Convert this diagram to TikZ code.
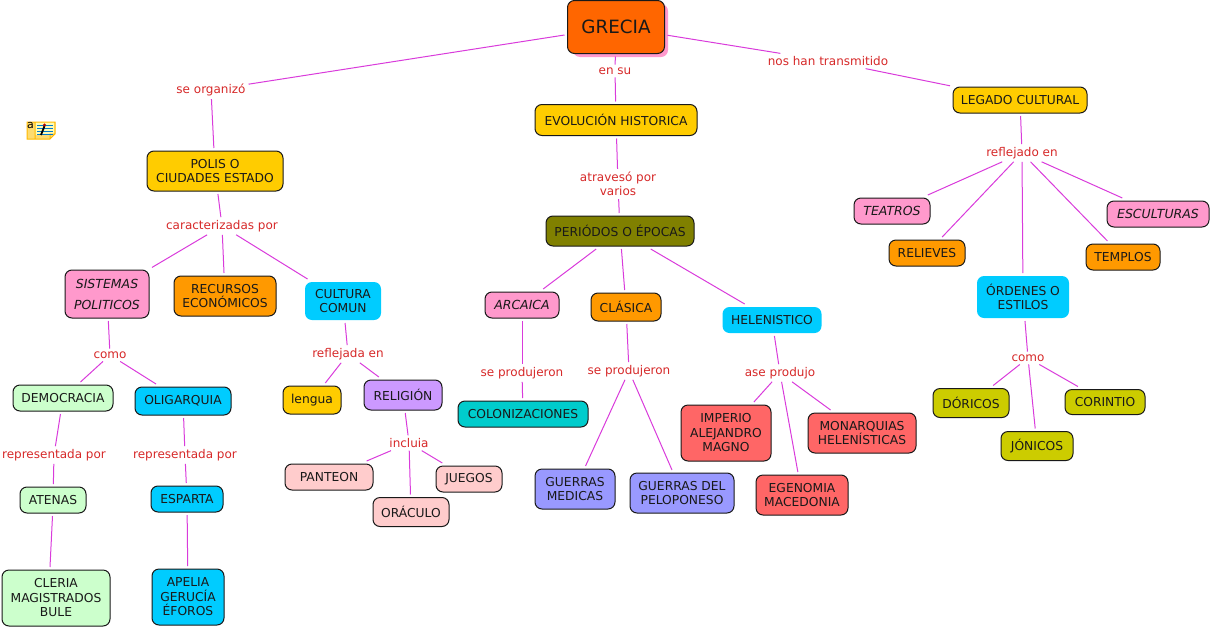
\documentclass[tikz,border=0pt]{standalone}
\usepackage{fontspec}
\setmainfont{DejaVu Sans}
\begin{document}
\begin{tikzpicture}[x=1pt,y=-1pt,
  concept/.style={draw=black!90,line width=1pt,rounded corners=7pt,align=center,font=\fontsize{12.3}{14.5}\selectfont,text=black!90,inner sep=0pt,outer sep=3pt,anchor=center},
  link/.style={text=linkred,font=\fontsize{12}{14.5}\selectfont,align=center,inner sep=1pt,outer sep=2pt,anchor=center},
  conn/.style={draw=connc,line width=1pt},
  ital/.style={concept,fill=pinkc,font=\fontsize{12.5}{14.5}\selectfont\itshape},
  nob/.style={draw=none,fill=cyanc},
]
\definecolor{linkred}{HTML}{D62828}\definecolor{connc}{HTML}{D93BDB}
\definecolor{oran}{HTML}{FF6600}\definecolor{gold}{HTML}{FFCC00}\definecolor{pinkc}{HTML}{FF99CC}
\definecolor{orc}{HTML}{FF9900}\definecolor{cyanc}{HTML}{00CCFF}\definecolor{greenc}{HTML}{CCFFCC}
\definecolor{lilac}{HTML}{CC99FF}\definecolor{rosec}{HTML}{FFCCCC}\definecolor{olivec}{HTML}{808000}
\definecolor{tealc}{HTML}{00CCCC}\definecolor{bluec}{HTML}{9999FF}\definecolor{redc}{HTML}{FF6666}
\definecolor{yelc}{HTML}{CCCC00}
\useasboundingbox (0,0) rectangle (1210,632);
\fill[pinkc,rounded corners=7pt] (573,4) rectangle (668,57);
\node[concept,fill=oran,minimum width=97pt,minimum height=53pt,font=\fontsize{18.3}{20}\selectfont] (grecia) at (616,27) {GRECIA};
\node[concept,fill=gold,minimum width=136pt,minimum height=40pt] (polis) at (215,171) {POLIS O\\CIUDADES ESTADO};
\node[ital,minimum width=84pt,minimum height=48pt,font=\fontsize{12.5}{21}\selectfont\itshape] (sist) at (107,294) {SISTEMAS\\POLITICOS};
\node[concept,fill=orc,minimum width=102pt,minimum height=40pt] (recur) at (225,296) {RECURSOS\\ECONÓMICOS};
\node[concept,nob,minimum width=76pt,minimum height=38pt] (cult) at (343,301) {CULTURA\\COMUN};
\node[concept,fill=gold,minimum width=58pt,minimum height=28pt] (lengua) at (312,400) {lengua};
\node[concept,fill=lilac,minimum width=78pt,minimum height=30pt] (relig) at (403,395) {RELIGIÓN};
\node[concept,fill=rosec,minimum width=88pt,minimum height=26pt] (panteon) at (329,477) {PANTEON};
\node[concept,fill=rosec,minimum width=66pt,minimum height=26pt] (juegos) at (469,479) {JUEGOS};
\node[concept,fill=rosec,minimum width=76pt,minimum height=29pt] (oraculo) at (411,512) {ORÁCULO};
\node[concept,fill=greenc,minimum width=100pt,minimum height=26pt] (demo) at (63,398) {DEMOCRACIA};
\node[concept,fill=cyanc,minimum width=96pt,minimum height=28pt] (oligo) at (183,401) {OLIGARQUIA};
\node[concept,fill=greenc,minimum width=66pt,minimum height=26pt] (atenas) at (53,500) {ATENAS};
\node[concept,fill=cyanc,minimum width=72pt,minimum height=26pt] (esparta) at (187,499) {ESPARTA};
\node[concept,fill=greenc,minimum width=108pt,minimum height=56pt] (cleria) at (56,598) {CLERIA\\MAGISTRADOS\\BULE};
\node[concept,fill=cyanc,minimum width=72pt,minimum height=56pt] (apelia) at (188,597) {APELIA\\GERUCÍA\\ÉFOROS};
\node[concept,fill=gold,minimum width=162pt,minimum height=31pt] (evol) at (616,120) {EVOLUCIÓN HISTORICA};
\node[concept,fill=olivec,minimum width=148pt,minimum height=30pt] (peri) at (620,231) {PERIÓDOS O ÉPOCAS};
\node[ital,minimum width=74pt,minimum height=26pt] (arca) at (522,305) {ARCAICA};
\node[concept,fill=orc,minimum width=70pt,minimum height=28pt] (clas) at (626,307) {CLÁSICA};
\node[concept,nob,minimum width=99pt,minimum height=26pt] (hele) at (772,320) {HELENISTICO};
\node[concept,fill=tealc,minimum width=130pt,minimum height=26pt] (colon) at (523,414) {COLONIZACIONES};
\node[concept,fill=bluec,minimum width=80pt,minimum height=40pt] (gmed) at (575,489) {GUERRAS\\MEDICAS};
\node[concept,fill=bluec,minimum width=104pt,minimum height=40pt] (gpel) at (682,493) {GUERRAS DEL\\PELOPONESO};
\node[concept,fill=redc,minimum width=90pt,minimum height=56pt] (imper) at (726,433) {IMPERIO\\ALEJANDRO\\MAGNO};
\node[concept,fill=redc,minimum width=108pt,minimum height=40pt] (monar) at (862,433) {MONARQUIAS\\HELENÍSTICAS};
\node[concept,fill=redc,minimum width=92pt,minimum height=40pt] (egen) at (802,495) {EGENOMIA\\MACEDONIA};
\node[concept,fill=gold,minimum width=134pt,minimum height=26pt] (legado) at (1020,100) {LEGADO CULTURAL};
\node[ital,minimum width=76pt,minimum height=26pt] (teatros) at (892,211) {TEATROS};
\node[ital,minimum width=102pt,minimum height=26pt] (escul) at (1158,214) {ESCULTURAS};
\node[concept,fill=orc,minimum width=76pt,minimum height=26pt] (relie) at (927,253) {RELIEVES};
\node[concept,fill=orc,minimum width=74pt,minimum height=26pt] (templ) at (1123,257) {TEMPLOS};
\node[concept,nob,minimum width=92pt,minimum height=42pt] (orden) at (1023,297) {ÓRDENES O\\ESTILOS};
\node[concept,fill=yelc,minimum width=76pt,minimum height=29pt] (dori) at (971,403) {DÓRICOS};
\node[concept,fill=yelc,minimum width=80pt,minimum height=25pt] (cori) at (1105,402) {CORINTIO};
\node[concept,fill=yelc,minimum width=72pt,minimum height=29pt] (joni) at (1037,446) {JÓNICOS};
\node[link] (l1) at (211,90) {se organizó};
\node[link] (l2) at (615,71) {en su};
\node[link] (l3) at (828,61) {nos han transmitido};
\node[link] (l4) at (222,226) {caracterizadas por};
\node[link] (l5) at (110,355) {como};
\node[link] (l6) at (348,354) {reflejada en};
\node[link] (l7) at (409,443) {incluia};
\node[link] (l8) at (54,455) {representada por};
\node[link] (l9) at (185,455) {representada por};
\node[link] (l10) at (618,184) {atravesó por\\varios};
\node[link] (l11) at (522,373) {se produjeron};
\node[link] (l12) at (629,371) {se produjeron};
\node[link] (l13) at (780,373) {ase produjo};
\node[link] (l14) at (1022,153) {reflejado en};
\node[link] (l15) at (1028,358) {como};
\foreach \a/\b in {grecia/l1,l1/polis,grecia/l2,l2/evol,grecia/l3,l3/legado,polis/l4,l4/sist,l4/recur,l4/cult,sist/l5,l5/demo,l5/oligo,demo/l8,l8/atenas,oligo/l9,l9/esparta,esparta/apelia,cult/l6,l6/lengua,l6/relig,relig/l7,l7/panteon,l7/juegos,l7/oraculo,evol/l10,l10/peri,peri/arca,peri/clas,peri/hele,arca/l11,l11/colon,clas/l12,l12/gmed,l12/gpel,hele/l13,l13/imper,l13/monar,l13/egen,legado/l14,l14/teatros,l14/escul,l14/relie,l14/templ,l14/orden,orden/l15,l15/dori,l15/cori,l15/joni}
  \draw[conn] (\a) -- (\b);
\coordinate (atb) at (52.5,516);
\coordinate (clt) at (50,567);
\draw[conn] (atb) -- (clt);
% note icon
\fill[yellow!55!orange!55] (27,122) -- (55,122) -- (55,134) -- (50,139) -- (27,139) -- cycle;
\fill[yellow!30] (35,122) rectangle (54,135);
\draw[orange!55!yellow,line width=1pt] (27,122) -- (55,122) -- (55,134) -- (50,139) -- (27,139) -- cycle (35,122) -- (35,139) (50,139) -- (50,134) -- (55,134);
\foreach \yy in {125,128,131,134} \draw[blue!40!cyan!80!black,line width=0.7pt] (37,\yy) -- (53,\yy);
\draw[black,line width=1.8pt] (41,135) -- (44.5,126);
\fill[red!70!black] (44.5,125) circle (1.6pt);
\node[inner sep=0pt,font=\fontsize{11}{11}\selectfont] (iconA) at (30.5,125.5) {a};
\end{tikzpicture}
\end{document}
